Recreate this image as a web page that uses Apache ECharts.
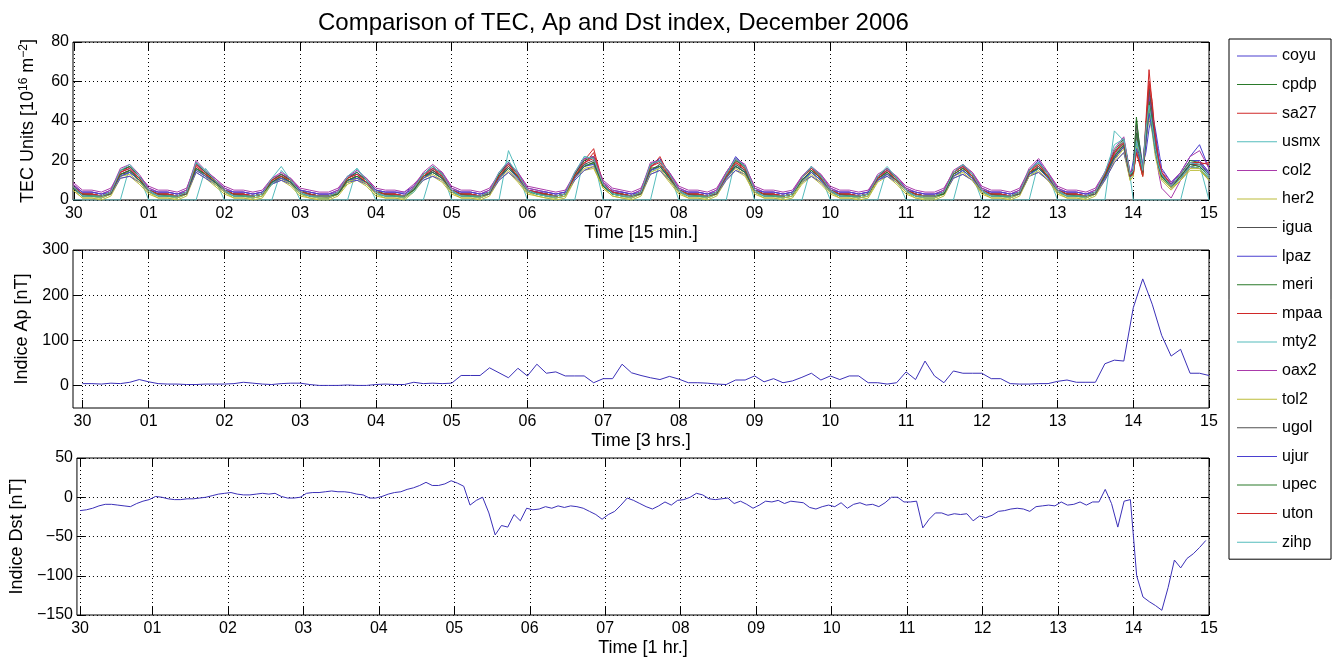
<!DOCTYPE html>
<html>
<head>
<meta charset="utf-8">
<title>TEC, Ap y Dst - Diciembre 2006</title>
<script src="https://cdn.jsdelivr.net/npm/echarts@6/dist/echarts.min.js"></script>
<style>
  html, body { margin: 0; padding: 0; background: #fff; }
  #tecChart { width: 1334px; height: 659px; }
</style>
</head>
<body>
<div id="tecChart"></div>
<script>
// etiquetas de dias (30 nov -> 15 dic)
const dayLabels = ['30', '01', '02', '03', '04', '05', '06', '07', '08', '09', '10', '11', '12', '13', '14', '15'];
// posiciones de las marcas en cada panel (indice de muestra)
const tecTicks = [1, 96, 192, 288, 384, 480, 576, 672, 768, 864, 960, 1056, 1152, 1248, 1344, 1440];
const apTicks = [1, 8, 16, 24, 32, 40, 48, 56, 64, 72, 80, 88, 96, 104, 112, 120];
const dstTicks = [1, 24, 48, 72, 96, 120, 144, 168, 192, 216, 240, 264, 288, 312, 336, 360];
const apYTicks = [0, 100, 200, 300];

const stations = ['coyu', 'cpdp', 'sa27', 'usmx', 'col2', 'her2', 'igua', 'lpaz', 'meri',
  'mpaa', 'mty2', 'oax2', 'tol2', 'ugol', 'ujur', 'upec', 'uton', 'zihp'];
const stationColors = ['#4a3fd0', '#2a7a2a', '#d02828', '#55bcbc', '#aa3aaa', '#bcbc3a', '#505050',
  '#4a3fd0', '#2a7a2a', '#d02828', '#55bcbc', '#aa3aaa', '#bcbc3a', '#505050',
  '#4a3fd0', '#2a7a2a', '#d02828', '#55bcbc'];

// horas desde 30 nov 00 UT de cada muestra de TEC
const tecHours = [0, 3, 6, 9, 12, 15, 18, 21, 24, 27, 30, 33, 36, 39, 42, 45, 48, 51, 54, 57, 60, 63, 66, 69,
  72, 75, 78, 81, 84, 87, 90, 93, 96, 99, 102, 105, 108, 111, 114, 117, 120, 123, 126, 129, 132, 135, 138, 141,
  144, 147, 150, 153, 156, 159, 162, 165, 168, 171, 174, 177, 180, 183, 186, 189, 192, 195, 198, 201, 204, 207,
  210, 213, 216, 219, 222, 225, 228, 231, 234, 237, 240, 243, 246, 249, 252, 255, 258, 261, 264, 267, 270, 273,
  276, 279, 282, 285, 288, 291, 294, 297, 300, 303, 306, 309, 312, 315, 318, 321, 324, 327, 330, 333,
  334, 335, 336, 337, 338, 339, 340, 341, 342, 343, 344, 345, 348, 351, 354, 357, 360];

// TEC por estacion [10^16 m^-2]
const coyu = [8,4,4,3,5,15,17,12, 6,4,4,3,5,19,14,10, 6,4,4,3,4,10,13,10, 5,4,3,3,5,12,14,10, 5,4,4,4,7,13,17,13, 6,4,4,3,5,13,19,13, 6,5,4,3,4,13,21,22,
  9,5,4,3,5,18,21,13, 6,4,4,3,5,13,22,17, 6,4,4,3,4,11,17,12, 6,4,4,3,4,12,15,11, 6,4,3,3,5,14,17,13, 6,4,4,3,5,15,20,13, 6,4,4,3,5,13,24,30,
  22,13,15,28,24,16,34,52,42,34,22,14, 8,14,22,28,16];
const cpdp = [6,2,2,1,3,12,14,10, 4,2,2,1,3,16,12,8, 4,2,2,1,2,8,11,8, 3,2,1,1,3,9,11,8, 3,2,2,1,5,11,14,11, 4,2,2,1,3,11,16,11, 4,3,2,1,2,11,17,19,
  7,3,2,1,3,15,17,11, 4,2,2,1,3,11,17,14, 4,2,2,1,2,9,14,10, 4,2,2,1,2,10,13,9, 4,2,1,1,3,12,15,11, 4,2,2,1,3,13,16,11, 4,2,2,1,3,11,21,27,
  19,11,16,42,26,13,30,45,36,24,16,11, 6,11,17,16,10];
const sa27 = [7,3,3,2,4,14,17,12, 5,3,3,2,4,18,14,10, 5,3,3,2,3,10,13,10, 4,3,2,2,4,11,13,10, 4,3,3,2,6,13,16,13, 5,3,3,2,4,13,18,13, 5,4,3,2,3,13,20,26,
  8,4,3,2,4,17,20,13, 5,3,3,2,4,13,20,16, 5,3,3,2,3,11,16,12, 5,3,3,2,3,12,15,11, 5,3,2,2,4,14,17,13, 5,3,3,2,4,15,18,13, 5,3,3,2,4,13,24,30,
  21,12,13,26,20,13,40,66,48,30,20,13, 6,12,18,18,13];
const usmx = [0,0,0,0,0,0,17,12, 0,0,0,0,0,0,16,10, 0,0,0,0,0,0,15,10, 0,0,0,0,0,0,16,10, 0,0,0,0,0,0,16,14, 0,0,0,0,0,0,25,14, 0,0,0,0,0,0,22,21,
  0,0,0,0,0,0,20,14, 0,0,0,0,0,0,21,16, 0,0,0,0,0,0,17,12, 0,0,0,0,0,0,16,11, 0,0,0,0,0,0,18,13, 0,0,0,0,0,0,19,13, 0,0,0,0,0,0,35,30,
  22,12,0,0,0,0,0,0,0,0,0,0, 0,0,19,18,0];
const col2 = [9,5,5,4,6,14,16,12, 7,5,5,4,6,18,14,11, 7,5,5,4,5,11,13,11, 6,5,4,4,6,12,13,11, 6,5,5,4,8,13,16,14, 7,5,5,4,6,13,18,14, 7,6,5,4,5,13,19,22,
  10,6,5,4,6,17,20,14, 7,5,5,4,6,14,21,17, 7,5,5,4,5,12,16,13, 7,5,5,4,5,12,15,12, 7,5,4,4,6,14,17,14, 7,5,5,4,6,15,19,14, 7,5,5,4,6,14,23,29,
  22,14,15,30,23,16,36,50,40,28,14,6, 1,10,16,20,14];
const her2 = [5,1,1,0,2,11,12,8, 3,1,1,0,2,14,11,7, 3,1,1,0,1,8,10,7, 2,1,0,0,2,8,10,7, 2,1,1,0,4,10,12,9, 3,1,1,0,2,10,14,9, 3,2,1,0,1,10,15,16,
  6,2,1,0,2,13,15,9, 3,1,1,0,2,10,15,12, 3,1,1,0,1,8,12,8, 3,1,1,0,1,9,12,8, 3,1,0,0,2,11,13,10, 3,1,1,0,2,12,14,10, 3,1,1,0,2,10,19,24,
  17,10,12,26,19,12,28,42,34,22,15,10, 5,10,15,15,10];
const igua = [6,3,2,2,4,13,14,10, 5,3,2,2,3,16,12,9, 4,3,2,2,3,9,11,9, 4,2,2,1,3,10,12,9, 4,3,2,2,5,11,15,11, 5,3,2,2,4,11,16,12, 5,3,3,2,3,12,17,19,
  7,4,3,2,4,15,17,12, 5,3,2,2,4,12,17,14, 5,3,2,2,3,10,14,10, 4,3,2,2,3,11,13,10, 5,3,2,2,4,12,15,11, 5,3,2,2,4,13,16,12, 5,3,2,2,4,12,21,27,
  19,12,13,28,22,14,30,46,37,25,17,12, 7,11,17,16,11];
const lpaz = [6,3,3,2,3,11,12,9, 4,3,3,2,3,14,11,8, 4,3,3,2,3,8,10,8, 4,3,2,2,3,9,10,8, 4,3,3,2,5,10,12,10, 4,3,3,2,3,10,14,10, 4,4,3,2,3,10,15,17,
  7,4,3,2,3,13,15,10, 4,3,3,2,3,10,15,13, 4,3,3,2,3,9,12,9, 4,3,3,2,3,10,12,9, 4,3,2,2,3,11,13,10, 4,3,3,2,3,12,14,10, 4,3,3,2,3,10,19,24,
  18,11,20,34,28,18,24,36,44,36,26,16, 9,13,20,20,14];
const meri = [7,3,3,2,4,15,17,12, 5,3,3,2,4,19,14,10, 5,3,3,2,3,10,13,10, 5,3,2,2,4,11,14,10, 5,3,3,2,6,13,17,13, 5,3,3,2,4,13,19,13, 5,4,3,2,3,13,20,22,
  8,4,3,2,4,18,20,13, 5,3,3,2,4,13,20,17, 5,3,3,2,3,11,17,12, 5,3,3,2,3,12,16,11, 5,3,2,2,4,14,18,13, 5,3,3,2,4,15,19,13, 5,3,3,2,4,13,25,31,
  22,13,15,40,28,15,33,50,40,27,19,13, 7,13,20,19,13];
const mpaa = [7,3,3,2,4,13,15,11, 5,3,3,2,4,17,13,9, 5,3,3,2,3,9,12,9, 4,3,2,2,4,10,12,9, 4,3,3,2,6,12,15,12, 5,3,3,2,4,12,17,12, 5,4,3,2,3,12,18,24,
  8,4,3,2,4,16,22,12, 5,3,3,2,4,12,19,15, 5,3,3,2,3,10,15,11, 5,3,3,2,3,11,14,10, 5,3,2,2,4,13,16,12, 5,3,3,2,4,14,17,12, 5,3,3,2,4,12,23,29,
  20,12,14,24,18,12,38,58,46,30,20,14, 8,12,18,18,19];
const mty2 = [6,2,2,1,3,12,14,10, 4,2,2,1,3,16,12,8, 4,2,2,1,2,8,12,8, 3,2,1,1,3,9,12,8, 3,2,2,1,4,11,14,11, 4,2,2,1,3,11,16,11, 4,3,2,1,2,11,18,18,
  7,3,2,1,3,14,17,11, 4,2,2,1,3,11,18,14, 4,2,2,1,2,9,14,10, 4,2,2,1,2,10,14,9, 4,2,1,1,3,12,15,11, 4,2,2,1,3,12,16,11, 4,2,2,1,3,11,22,30,
  19,11,13,28,24,15,38,46,35,24,17,12, 6,11,17,16,11];
const oax2 = [8,4,4,3,5,16,18,13, 6,4,4,3,5,20,15,11, 6,4,4,3,4,11,14,11, 5,4,3,3,5,12,15,11, 5,4,4,3,7,14,18,14, 6,4,4,3,5,14,19,14, 6,5,4,3,4,14,21,22,
  9,5,4,3,5,19,20,14, 6,4,4,3,5,14,21,18, 6,4,4,3,4,12,17,13, 6,4,4,3,4,13,16,12, 6,4,3,3,5,15,18,14, 6,4,4,3,5,16,21,14, 6,4,4,3,5,14,26,32,
  23,14,16,32,25,16,36,54,44,30,21,15, 9,14,22,25,16];
const tol2 = [5,1,1,1,3,12,13,9, 4,1,1,1,3,15,12,8, 4,1,1,1,2,9,11,8, 3,1,1,1,3,9,11,8, 3,1,1,1,5,11,13,10, 4,1,1,1,3,11,15,10, 4,2,1,1,2,11,16,17,
  6,2,1,1,3,14,16,10, 4,1,1,1,3,11,16,13, 4,1,1,1,2,9,13,9, 4,1,1,1,2,10,13,9, 4,1,1,1,3,12,14,10, 4,1,1,1,3,12,15,10, 4,1,1,1,3,11,20,26,
  18,10,12,27,20,13,31,46,36,24,16,11, 6,10,16,16,10];
const ugol = [6,2,2,2,3,13,15,11, 5,2,2,2,3,16,13,9, 5,2,2,2,3,9,12,9, 4,2,2,2,3,10,12,9, 4,2,2,2,5,12,15,12, 5,2,2,2,3,12,17,12, 5,3,2,2,3,12,18,20,
  7,3,2,2,3,15,18,12, 5,2,2,2,3,12,18,15, 5,2,2,2,3,10,15,11, 5,2,2,2,3,11,14,10, 5,2,2,2,3,13,16,12, 5,2,2,2,3,13,17,12, 5,2,2,2,3,12,22,28,
  20,12,15,38,24,14,36,56,44,28,18,12, 7,12,18,17,12];
const ujur = [7,4,4,3,4,12,14,10, 5,4,4,3,4,15,12,9, 5,4,4,3,4,9,11,9, 5,4,3,3,4,10,11,9, 5,4,4,3,6,11,14,11, 5,4,4,3,4,11,16,11, 5,4,4,3,4,11,17,18,
  8,4,4,3,4,15,17,11, 5,4,4,3,4,11,17,14, 5,4,4,3,4,10,14,10, 5,4,4,3,4,10,13,10, 5,4,3,3,4,12,15,11, 5,4,4,3,4,13,16,11, 5,4,4,3,4,11,21,27,
  19,12,14,26,21,14,29,44,36,25,17,12, 8,12,18,19,13];
const upec = [6,3,2,2,4,13,15,10, 5,3,2,2,4,16,13,9, 5,3,2,2,3,9,12,9, 4,3,2,2,3,10,12,9, 4,3,2,2,5,12,14,11, 5,3,2,2,4,12,16,12, 5,3,3,2,3,12,17,19,
  7,3,3,2,4,16,17,11, 5,3,2,2,4,12,17,14, 5,3,2,2,3,10,15,11, 5,3,2,2,3,11,14,10, 5,3,2,2,3,13,16,12, 5,3,2,2,4,14,16,12, 5,3,2,2,4,12,22,28,
  20,12,14,34,24,14,32,48,38,26,18,12, 7,12,18,17,12];
const uton = [7,3,3,2,4,14,16,11, 5,3,3,2,4,18,13,10, 5,3,3,2,3,10,12,10, 4,3,2,2,4,11,13,9, 4,3,3,2,6,12,16,12, 5,3,3,2,4,12,18,12, 5,4,3,2,3,12,19,21,
  8,4,3,2,4,17,19,12, 5,3,3,2,4,12,19,16, 5,3,3,2,3,11,16,11, 5,3,3,2,3,11,15,10, 5,3,2,2,4,14,17,12, 5,3,3,2,4,14,18,12, 5,3,3,2,4,13,24,29,
  21,12,13,24,19,12,36,60,50,32,21,14, 7,13,19,19,18];
const zihp = [7,2,2,2,4,15,18,12, 5,2,2,2,4,19,15,10, 5,2,2,2,3,11,17,10, 4,2,2,2,4,12,16,10, 4,2,2,2,6,13,17,13, 5,2,2,2,4,14,20,13, 5,3,2,2,3,14,22,21,
  8,3,2,2,4,18,20,13, 5,2,2,2,4,13,21,17, 5,2,2,2,3,11,17,12, 5,2,2,2,3,12,17,11, 5,2,2,2,4,14,18,13, 5,2,2,2,4,15,19,13, 5,2,2,2,4,14,28,31,
  22,13,15,30,24,15,35,48,38,26,18,13, 7,13,19,18,12];
const tecValues = [coyu, cpdp, sa27, usmx, col2, her2, igua, lpaz, meri, mpaa, mty2, oax2, tol2, ugol, ujur, upec, uton, zihp];

// indice Ap cada 3 horas [nT]
const ap = [4, 4, 3, 5, 4, 7, 13, 8, 4, 3,
  3, 2, 2, 3, 3, 3, 4, 7, 5, 3,
  2, 4, 5, 5, 2, 0, 0, 0, 1, 0,
  0, 2, 3, 2, 2, 7, 4, 5, 4, 5,
  22, 22, 22, 39, 28, 17, 38, 21, 47, 27,
  30, 21, 21, 21, 6, 15, 15, 47, 28, 22,
  17, 13, 20, 14, 6, 6, 5, 3, 2, 12,
  12, 21, 8, 15, 6, 10, 18, 27, 12, 21,
  13, 21, 21, 6, 6, 3, 6, 30, 13, 54,
  21, 6, 32, 27, 27, 27, 15, 15, 4, 3,
  3, 4, 4, 9, 12, 7, 7, 7, 48, 56,
  54, 172, 236, 180, 111, 65, 80, 27, 27, 22];

// indice Dst cada 2 horas [nT]
const dst = [-17, -16, -14, -11, -9, -9, -10, -11, -12, -8, -5, -3,
  1, 0, -2, -3, -3, -2, -2, -1, 0, 2, 4, 5,
  6, 4, 3, 3, 4, 5, 4, 5, 1, -1, -1, 0,
  5, 6, 6, 7, 8, 7, 7, 6, 4, 3, -1, -1,
  1, 4, 6, 7, 10, 12, 15, 19, 15, 15, 17, 21,
  18, 14, -10, -4, 0, -20, -48, -36, -38, -22, -30, -14,
  -16, -15, -12, -14, -11, -13, -11, -12, -14, -18, -22, -28,
  -22, -18, -10, -1, -4, -8, -12, -15, -11, -6, -10, -4,
  -3, 0, 5, 3, -2, -3, -2, -1, -8, -5, -9, -14,
  -10, -5, -6, -4, -8, -5, -6, -7, -13, -15, -12, -10,
  -12, -7, -14, -9, -7, -10, -9, -12, -7, 0, 0, -6,
  -6, -5, -39, -28, -20, -20, -23, -21, -22, -21, -30, -24,
  -26, -23, -18, -17, -15, -14, -15, -18, -12, -11, -10, -11,
  -6, -10, -9, -6, -10, -6, -6, 10, -8, -38, -5, -3,
  -100, -127, -133, -138, -144, -115, -80, -90, -78, -72, -64, -55];

const FONT = '"Liberation Sans", Arial, Helvetica, sans-serif';
const gridDots = { type: [1, 3], color: '#000', width: 1 };
const minus = v => String(v).replace('-', '\u2212');

// eje x inferior con etiquetas de dia
function bottomAxis(gridIndex, max, ticks, name) {
  return {
    type: 'value', gridIndex: gridIndex, position: 'bottom', min: 0, max: max,
    name: name, nameLocation: 'middle', nameGap: 24,
    nameTextStyle: { fontSize: 18, color: '#000', fontFamily: FONT },
    axisLine: { show: false, onZero: false },
    axisTick: { show: true, inside: true, length: 8, customValues: ticks, lineStyle: { color: '#000' } },
    axisLabel: {
      customValues: ticks, margin: 6, fontSize: 16, color: '#000', fontFamily: FONT,
      formatter: function (v) { return dayLabels[ticks.indexOf(v)]; }
    },
    splitLine: { show: true, lineStyle: gridDots }
  };
}
// eje x superior, solo marcas
function topAxis(gridIndex, max, ticks) {
  return {
    type: 'value', gridIndex: gridIndex, position: 'top', min: 0, max: max,
    axisLine: { show: false, onZero: false },
    axisTick: { show: true, inside: true, length: 8, customValues: ticks, lineStyle: { color: '#000' } },
    axisLabel: { show: false, customValues: ticks },
    splitLine: { show: false }
  };
}
function leftAxis(gridIndex, min, max, interval, custom, name, gap) {
  const axis = {
    type: 'value', gridIndex: gridIndex, position: 'left', min: min, max: max,
    name: name, nameLocation: 'middle', nameGap: gap, nameRotate: 90,
    nameTextStyle: { fontSize: 18, color: '#000', fontFamily: FONT },
    axisLine: { show: false, onZero: false },
    axisTick: { show: true, inside: true, length: 8, lineStyle: { color: '#000' } },
    axisLabel: { margin: 4, fontSize: 16, color: '#000', fontFamily: FONT, formatter: minus },
    splitLine: { show: true, lineStyle: gridDots }
  };
  if (interval) axis.interval = interval;
  if (custom) {
    axis.axisTick.customValues = custom;
    axis.axisLabel.customValues = custom;
  }
  return axis;
}
function rightAxis(gridIndex, min, max, interval, custom) {
  const axis = {
    type: 'value', gridIndex: gridIndex, position: 'right', min: min, max: max,
    axisLine: { show: false, onZero: false },
    axisTick: { show: true, inside: true, length: 8, lineStyle: { color: '#000' } },
    axisLabel: { show: false },
    splitLine: { show: false }
  };
  if (interval) axis.interval = interval;
  if (custom) {
    axis.axisTick.customValues = custom;
    axis.axisLabel.customValues = custom;
  }
  return axis;
}

const myChart = echarts.init(document.getElementById('tecChart'));

const series = [];
stations.forEach(function (name, s) {
  series.push({
    name: name, type: 'line', xAxisIndex: 0, yAxisIndex: 0,
    symbol: 'none', animation: false,
    color: stationColors[s],
    lineStyle: { width: 1, color: stationColors[s] },
    // x en unidades de 15 min
    data: tecHours.map(function (h, i) { return [h * 4, tecValues[s][i]]; })
  });
});
series.push({
  name: 'Ap', type: 'line', xAxisIndex: 1, yAxisIndex: 1, symbol: 'none', animation: false,
  lineStyle: { width: 1, color: '#3b30b8' },
  data: ap.map(function (v, i) { return [i + 1, v]; })
});
series.push({
  name: 'Dst', type: 'line', xAxisIndex: 2, yAxisIndex: 2, symbol: 'none', animation: false,
  lineStyle: { width: 1, color: '#3b30b8' },
  data: dst.map(function (v, k) { return [1 + 2 * k, v]; })
});

const option = {
  backgroundColor: '#fff',
  animation: false,
  title: {
    text: 'Comparison of TEC, Ap and Dst index, December 2006',
    left: 313, top: 6,
    textStyle: { fontSize: 24, fontWeight: 'normal', color: '#000', fontFamily: FONT }
  },
  legend: {
    orient: 'vertical', left: 1229, top: 39,
    padding: [9, 9, 9, 8],
    icon: 'rect',
    itemWidth: 40, itemHeight: 1, itemGap: 12.6,
    borderColor: '#000', borderWidth: 1,
    selectedMode: false,
    textStyle: { fontSize: 16, color: '#000', fontFamily: FONT, lineHeight: 16 },
    data: stations
  },
  grid: [
    { left: 73, right: 125, top: 42, height: 158, show: true, borderColor: '#000', borderWidth: 1 },
    { left: 73, right: 125, top: 250, height: 158, show: true, borderColor: '#000', borderWidth: 1 },
    { left: 73, right: 125, top: 458, height: 157, show: true, borderColor: '#000', borderWidth: 1 }
  ],
  xAxis: [
    bottomAxis(0, 1440, tecTicks, 'Time [15 min.]'),
    bottomAxis(1, 120, apTicks, 'Time [3 hrs.]'),
    bottomAxis(2, 360, dstTicks, 'Time [1 hr.]'),
    topAxis(0, 1440, tecTicks),
    topAxis(1, 120, apTicks),
    topAxis(2, 360, dstTicks)
  ],
  yAxis: [
    leftAxis(0, 0, 80, 20, null, '{n|TEC Units [10}{s|16}{n| m}{s|\u22122}{n|]}', 35),
    leftAxis(1, -50, 300, null, apYTicks, 'Indice Ap [nT]', 31),
    leftAxis(2, -150, 50, 50, null, 'Indice Dst [nT]', 44),
    rightAxis(0, 0, 80, 20, null),
    rightAxis(1, -50, 300, null, apYTicks),
    rightAxis(2, -150, 50, 50, null)
  ],
  series: series
};
// superindices del rotulo de TEC
option.yAxis[0].nameTextStyle.rich = {
  n: { fontSize: 18, color: '#000', fontFamily: FONT, lineHeight: 20 },
  s: { fontSize: 12, color: '#000', fontFamily: FONT, verticalAlign: 'top', lineHeight: 20 }
};
myChart.setOption(option);
</script>
</body>
</html>
